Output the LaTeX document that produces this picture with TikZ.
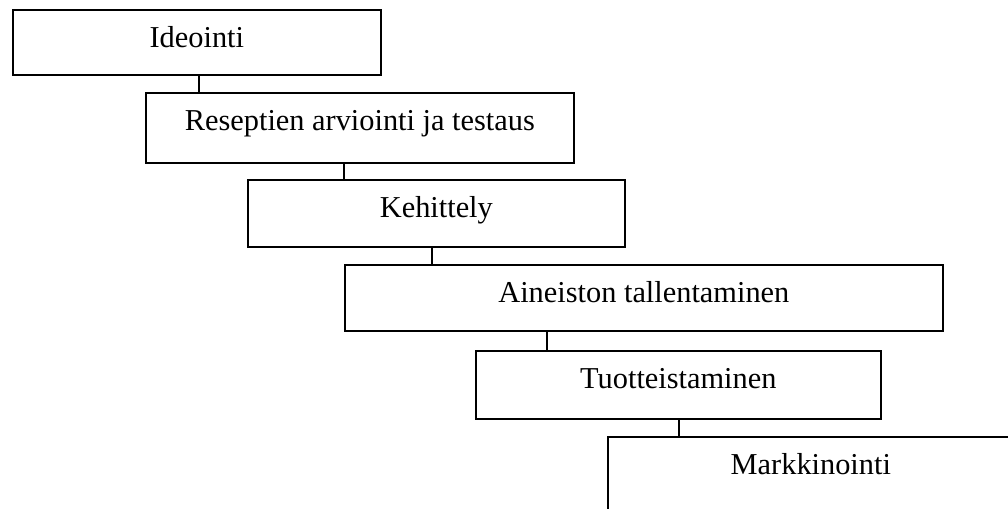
\documentclass[tikz,border=0pt]{standalone}
\usepackage{fontspec}
\setmainfont{Liberation Serif}
\usepackage{tikz}

\tikzset{
	stepbox/.style={draw, line width=1.2pt, inner sep=0pt, anchor=north west},
	steplabel/.style={anchor=base, yshift=-0.9625cm, inner sep=0pt, font=\fontsize{21.6}{26}\selectfont},
	steplink/.style={line width=0.9pt}
}

\begin{document}
\begin{tikzpicture}

		\useasboundingbox (0,0) rectangle (25.2,-12.7);
		\clip (0,0) rectangle (25.2,-12.7);

		\node[stepbox, minimum width= 9.200cm, minimum height=1.625cm, label={[steplabel]north:Ideointi}] (ideointi) at ( 0.300, -0.225) {};
		\node[stepbox, minimum width=10.700cm, minimum height=1.750cm, label={[steplabel]north:Reseptien arviointi ja testaus}] (reseptit) at ( 3.625, -2.300) {};
		\node[stepbox, minimum width= 9.425cm, minimum height=1.675cm, label={[steplabel]north:Kehittely}] (kehittely) at ( 6.175, -4.475) {};
		\node[stepbox, minimum width=14.950cm, minimum height=1.650cm, label={[steplabel]north:Aineiston tallentaminen}] (aineisto) at ( 8.600, -6.600) {};
		\node[stepbox, minimum width=10.125cm, minimum height=1.700cm, label={[steplabel]north:Tuotteistaminen}] (tuotteet) at (11.875, -8.750) {};
		\node[stepbox, minimum width=10.150cm, minimum height=2.250cm, label={[steplabel]north:Markkinointi}] (markkinointi) at (15.175,-10.900) {};

		\draw[steplink] (ideointi.south -| 4.975,0) to (reseptit.north -| 4.975,0);
		\draw[steplink] (reseptit.south -| 8.600,0) to (kehittely.north -| 8.600,0);
		\draw[steplink] (kehittely.south -| 10.800,0) to (aineisto.north -| 10.800,0);
		\draw[steplink] (aineisto.south -| 13.675,0) to (tuotteet.north -| 13.675,0);
		\draw[steplink] (tuotteet.south -| 16.975,0) to (markkinointi.north -| 16.975,0);

	\end{tikzpicture}
\end{document}
